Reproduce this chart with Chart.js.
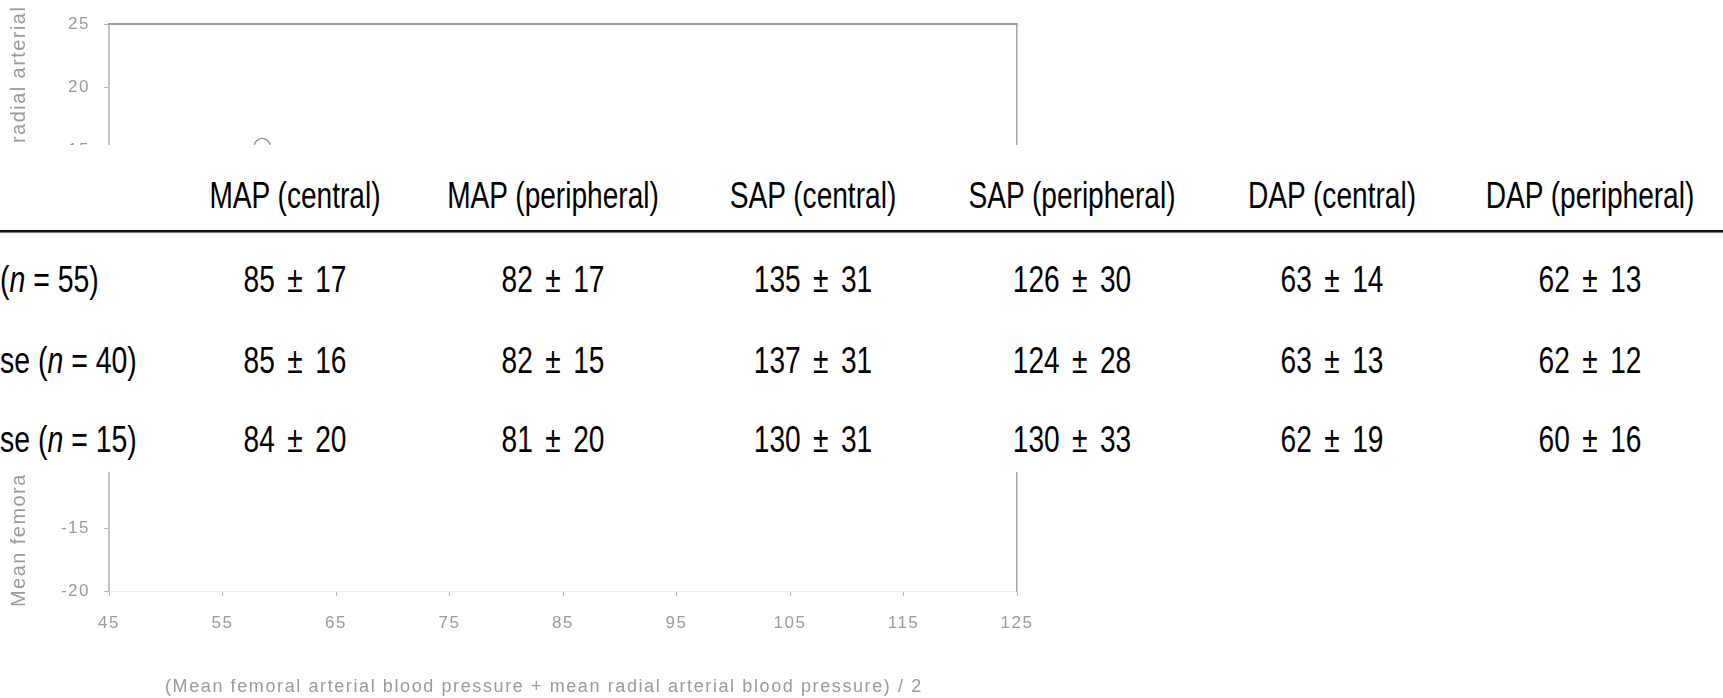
<!DOCTYPE html>
<html>
<head>
<meta charset="utf-8">
<title>Blood pressure agreement</title>
<script src="https://cdn.jsdelivr.net/npm/chart.js@4/dist/chart.umd.min.js"></script>
<style>
  html, body { margin: 0; padding: 0; background: #fff; }
  #wrap { position: relative; width: 1723px; height: 698px; overflow: hidden; }
  #plot { position: absolute; left: 0; top: 0; }
  #summary {
    position: absolute; left: 0; top: 145px; width: 1723px; height: 327px;
    background: #fff; color: #000;
    font-family: "Liberation Sans", Arial, sans-serif; font-size: 36px;
  }
  .cell {
    position: absolute; white-space: nowrap; line-height: 1;
    transform: translate(-50%, -50%) scaleX(0.78);
  }
  .cell.val { word-spacing: 6px; }
  .lab {
    position: absolute; white-space: nowrap; line-height: 1;
    transform-origin: 0 50%;
    transform: translateY(-50%) scaleX(0.79);
  }
  #rule {
    position: absolute; left: 0; width: 1723px; top: 85px; height: 0;
    border-top: 2px solid #111; border-bottom: 1px solid #777;
  }
</style>
</head>
<body>
<div id="wrap">
  <canvas id="plot" width="1723" height="698"></canvas>
  <div id="summary"><div id="rule"></div></div>
</div>
<script>
// ---- scatter (mean of the two pressures vs. their difference) ----
const pointMeans = [58.5];
const pointDiffs = [15.3];
const xTicksFrom = 45, xTicksTo = 125, xStep = 10;
const yTicksFrom = -20, yTicksTo = 25, yStep = 5;
const xTitle = '(Mean femoral arterial blood pressure + mean radial arterial blood pressure) / 2';
const yTitle = 'Mean femoral arterial blood pressure - mean radial arterial blood pressure';

// ---- summary table ----
const columnNames = ['MAP (central)', 'MAP (peripheral)', 'SAP (central)', 'SAP (peripheral)', 'DAP (central)', 'DAP (peripheral)'];
const groupPrefixes = ['', 'se ', 'se '];
const groupSizes = [55, 40, 15];
const groupMeans = [
  [85, 82, 135, 126, 63, 62],
  [85, 82, 137, 124, 63, 62],
  [84, 81, 130, 130, 62, 60]
];
const groupSDs = [
  [17, 17, 31, 30, 14, 13],
  [16, 15, 31, 28, 13, 12],
  [20, 20, 31, 33, 19, 16]
];

// table layout (px, relative to the table box)
const colCenters = [295, 553, 813, 1072, 1332, 1590];
const headerY = 51;
const rowYs = [135, 216, 295];

const box = document.getElementById('summary');
function addDiv(cls, x, y, html) {
  const d = document.createElement('div');
  d.className = cls;
  d.style.left = x + 'px';
  d.style.top = y + 'px';
  d.innerHTML = html;
  box.appendChild(d);
}
columnNames.forEach((name, c) => addDiv('cell', colCenters[c], headerY, name));
groupSizes.forEach((n, r) => {
  addDiv('lab', 0, rowYs[r], groupPrefixes[r] + '(<i>n</i> = ' + n + ')');
  groupMeans[r].forEach((m, c) => {
    addDiv('cell val', colCenters[c], rowYs[r], m + ' \u00b1 ' + groupSDs[r][c]);
  });
});

// ---- chart ----
const GREY_TEXT = '#9a9a9a';
const tickFont = { family: '"Liberation Sans", Arial, sans-serif', size: 17 };

const captions = {
  id: 'captions',
  beforeDraw(chart) { chart.ctx.letterSpacing = '1.5px'; },
  afterDraw(chart) {
    const { ctx, chartArea } = chart;
    ctx.save();
    ctx.fillStyle = GREY_TEXT;
    ctx.textBaseline = 'middle';
    ctx.textAlign = 'left';
    ctx.letterSpacing = '1.6px';
    ctx.font = '18px "Liberation Sans", Arial, sans-serif';
    ctx.fillText(xTitle, chartArea.left + 56, 687);
    ctx.translate(19, chartArea.bottom + 16);
    ctx.rotate(-Math.PI / 2);
    ctx.letterSpacing = '1.45px';
    ctx.font = '20px "Liberation Sans", Arial, sans-serif';
    ctx.fillText(yTitle, 0, 0);
    ctx.restore();
    ctx.letterSpacing = '0px';
  }
};

new Chart(document.getElementById('plot'), {
  type: 'scatter',
  data: {
    datasets: [{
      data: pointMeans.map((m, i) => ({ x: m, y: pointDiffs[i] })),
      pointRadius: 8,
      pointHoverRadius: 8,
      pointBorderWidth: 1.3,
      pointBorderColor: '#8a8a8a',
      pointBackgroundColor: 'rgba(255,255,255,0)'
    }]
  },
  options: {
    responsive: false,
    animation: false,
    devicePixelRatio: 1,
    layout: { padding: { left: 0, top: 22, right: 706, bottom: 0 } },
    plugins: { legend: { display: false }, tooltip: { enabled: false } },
    scales: {
      x: {
        type: 'linear', position: 'bottom',
        min: xTicksFrom, max: xTicksTo,
        afterFit(s) { s.height = 107; },
        ticks: { stepSize: xStep, color: GREY_TEXT, font: tickFont, padding: 17, maxRotation: 0 },
        grid: { display: true, drawOnChartArea: false, tickLength: 5, color: '#b5b5b5' },
        border: { display: true, color: '#ececec', width: 1 }
      },
      y: {
        type: 'linear', position: 'left',
        min: yTicksFrom, max: yTicksTo,
        afterFit(s) { s.width = 109; },
        ticks: { stepSize: yStep, color: GREY_TEXT, font: tickFont, padding: 14 },
        grid: { display: true, drawOnChartArea: false, tickLength: 5, color: '#b5b5b5' },
        border: { display: true, color: '#c4c4c4', width: 2 }
      },
      xTop: {
        type: 'linear', position: 'top',
        min: xTicksFrom, max: xTicksTo,
        afterFit(s) { s.height = 0; },
        ticks: { display: false },
        grid: { display: false, drawTicks: false },
        border: { display: true, color: '#9c9c9c', width: 2 }
      },
      yRight: {
        type: 'linear', position: 'right',
        min: yTicksFrom, max: yTicksTo,
        afterFit(s) { s.width = 0; },
        ticks: { display: false },
        grid: { display: false, drawTicks: false },
        border: { display: true, color: '#a4a4a4', width: 1.5 }
      }
    }
  },
  plugins: [captions]
});
</script>
</body>
</html>
